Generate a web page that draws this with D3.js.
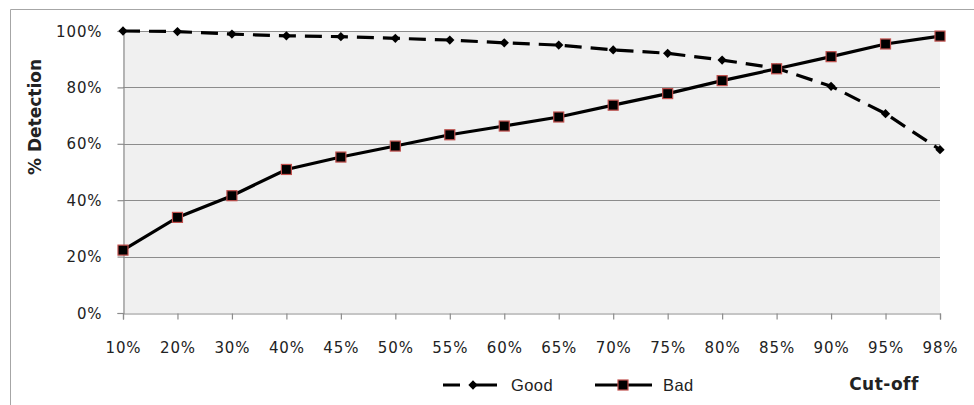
<!DOCTYPE html>
<html>
<head>
<meta charset="utf-8">
<script src="https://cdn.jsdelivr.net/npm/d3@7"></script>
<style>
  html, body { margin: 0; padding: 0; background: #fff; }
  svg { display: block; }
</style>
</head>
<body>
<svg id="chart" width="974" height="405"></svg>
<script>
// Cut-off levels and detection rates (%) for each class
const cutoffs = ["10%", "20%", "30%", "40%", "45%", "50%", "55%", "60%", "65%", "70%", "75%", "80%", "85%", "90%", "95%", "98%"];
const goodValues = [100, 99.8, 98.9, 98.3, 98.0, 97.4, 96.8, 95.8, 95.0, 93.3, 92.1, 89.7, 86.8, 80.4, 70.7, 57.9];
const badValues = [22.3, 33.9, 41.6, 50.9, 55.3, 59.2, 63.2, 66.3, 69.5, 73.7, 77.8, 82.4, 86.6, 90.9, 95.4, 98.2];
const yTicks = [0, 20, 40, 60, 80, 100];
const seriesNames = ["Good", "Bad"];

const svg = d3.select("#chart");
const plot = { left: 123, right: 940, top: 31, bottom: 313 };

const x = d3.scalePoint().domain(cutoffs).range([plot.left, plot.right]);
const y = d3.scaleLinear().domain([0, 100]).range([plot.bottom, plot.top]);

// outer chart frame
svg.append("path")
  .attr("d", "M10.5,405 V9.5 H974")
  .attr("fill", "none").attr("stroke", "#a6a6a6").attr("stroke-width", 1);

// plot background
svg.append("rect")
  .attr("x", plot.left).attr("y", plot.top)
  .attr("width", plot.right - plot.left).attr("height", plot.bottom - plot.top)
  .attr("fill", "#f0f0f0");

// horizontal gridlines
svg.append("g").selectAll("line").data(yTicks.filter(d => d > 0)).join("line")
  .attr("x1", plot.left).attr("x2", plot.right)
  .attr("y1", d => Math.round(y(d)) + 0.5).attr("y2", d => Math.round(y(d)) + 0.5)
  .attr("stroke", "#8c8c8c").attr("stroke-width", 1.2);

const tickFont = "'DejaVu Sans', Verdana, sans-serif";

// y axis
const yAxis = svg.append("g")
  .attr("transform", `translate(${plot.left + 0.5},0)`)
  .call(d3.axisLeft(y).tickValues(yTicks).tickFormat(d => d + "%").tickSize(6).tickPadding(15));
yAxis.select(".domain").attr("stroke", "#8c8c8c").attr("stroke-width", 1.2);
yAxis.selectAll(".tick line").attr("stroke", "#8c8c8c").attr("stroke-width", 1.2);
yAxis.selectAll(".tick text")
  .attr("font-family", tickFont).attr("font-size", 15).attr("letter-spacing", "0.9px")
  .attr("fill", "#222").attr("dy", "0.34em");

// x axis
const xAxis = svg.append("g")
  .attr("transform", `translate(0,${plot.bottom + 0.5})`)
  .call(d3.axisBottom(x).tickSize(6).tickPadding(23));
xAxis.select(".domain").attr("stroke", "#8c8c8c").attr("stroke-width", 1.2);
xAxis.selectAll(".tick line").attr("stroke", "#8c8c8c").attr("stroke-width", 1.2);
xAxis.selectAll(".tick text")
  .attr("font-family", tickFont).attr("font-size", 15).attr("letter-spacing", "0.9px")
  .attr("fill", "#222");

// y axis title
svg.append("text")
  .attr("transform", "translate(41,117) rotate(-90)")
  .attr("text-anchor", "middle")
  .attr("font-family", tickFont).attr("font-weight", "bold").attr("font-size", 17)
  .attr("fill", "#222")
  .text("% Detection");

// x axis title
svg.append("text")
  .attr("x", 884).attr("y", 390)
  .attr("text-anchor", "middle")
  .attr("font-family", tickFont).attr("font-weight", "bold").attr("font-size", 17)
  .attr("letter-spacing", "0.5px")
  .attr("fill", "#222")
  .text("Cut-off");

const line = d3.line().x((d, i) => x(cutoffs[i])).y(d => y(d));
const dash = "17,9";

// Good series: dashed line with diamonds
svg.append("path").datum(goodValues)
  .attr("d", line).attr("fill", "none")
  .attr("stroke", "#000").attr("stroke-width", 3.2)
  .attr("stroke-dasharray", dash).attr("stroke-linecap", "butt");
const diamond = d3.symbol().type(d3.symbolDiamond2).size(55);
svg.append("g").selectAll("path").data(goodValues).join("path")
  .attr("transform", (d, i) => `translate(${x(cutoffs[i])},${y(d)})`)
  .attr("d", diamond).attr("fill", "#000");

// Bad series: solid line with squares
svg.append("path").datum(badValues)
  .attr("d", line).attr("fill", "none")
  .attr("stroke", "#000").attr("stroke-width", 3.2);
svg.append("g").selectAll("rect").data(badValues).join("rect")
  .attr("x", (d, i) => x(cutoffs[i]) - 5).attr("y", d => y(d) - 5)
  .attr("width", 10).attr("height", 10)
  .attr("fill", "#000").attr("stroke", "#c0504d").attr("stroke-width", 1.2);

// legend
const legendY = 385;
const lg = svg.append("g");
lg.append("line").attr("x1", 443).attr("x2", 497).attr("y1", legendY).attr("y2", legendY)
  .attr("stroke", "#000").attr("stroke-width", 3.2).attr("stroke-dasharray", "17,13,24");
lg.append("path").attr("transform", `translate(473,${legendY})`).attr("d", diamond).attr("fill", "#000");
lg.append("text").attr("x", 511).attr("y", legendY + 6)
  .attr("font-family", "'Liberation Sans', Arial, sans-serif").attr("font-size", 16.5)
  .attr("letter-spacing", "0.4px").attr("fill", "#222").text(seriesNames[0]);
lg.append("line").attr("x1", 595).attr("x2", 652).attr("y1", legendY).attr("y2", legendY)
  .attr("stroke", "#000").attr("stroke-width", 3.2);
lg.append("rect").attr("x", 618).attr("y", legendY - 5).attr("width", 10).attr("height", 10)
  .attr("fill", "#000").attr("stroke", "#c0504d").attr("stroke-width", 1.2);
lg.append("text").attr("x", 663).attr("y", legendY + 6)
  .attr("font-family", "'Liberation Sans', Arial, sans-serif").attr("font-size", 16.5)
  .attr("letter-spacing", "0.4px").attr("fill", "#222").text(seriesNames[1]);
</script>
</body>
</html>
